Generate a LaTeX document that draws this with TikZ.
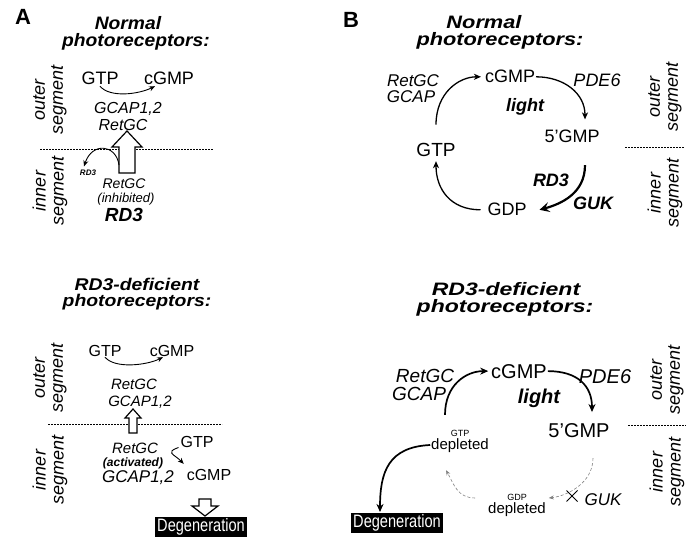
\documentclass[tikz,border=0pt]{standalone}
\usepackage{fontspec}
\setmainfont{Liberation Sans}
\usetikzlibrary{arrows.meta,shapes.misc}
\newcommand\fsz[1]{\fontsize{#1}{#1}\selectfont}
\begin{document}
\begin{tikzpicture}[x=1pt,y=-1pt,
  every node/.style={inner sep=0pt, outer sep=1pt},
  ttl/.style={font=\fsz{18}\bfseries\itshape, anchor=base, xscale=1.07},
  ttlb/.style={font=\fsz{17}\bfseries\itshape, anchor=base, xscale=1.14},
  ttlB/.style={font=\fsz{18}\bfseries\itshape, anchor=base, xscale=1.21},
  ttlBb/.style={font=\fsz{18}\bfseries\itshape, anchor=base, xscale=1.28},
  mol/.style={font=\fsz{#1}, anchor=base},
  enz/.style={font=\fsz{#1}\itshape, anchor=base},
  enzb/.style={font=\fsz{#1}\bfseries\itshape, anchor=base},
  seg/.style={font=\fsz{18}\itshape, rotate=90, align=center},
  panel/.style={font=\fsz{22}\bfseries, anchor=base},
  sep/.style={dash pattern=on 2pt off 1pt, line width=0.6pt},
  arr/.style={-{Stealth[length=6pt,width=5pt]}, line width=0.9pt},
  arrB/.style={-{Stealth[length=7pt,width=6pt,inset=2pt]}, line width=1.3pt},
  arrk/.style={-{Stealth[length=10pt,width=10pt,inset=4pt]}, line width=2.2pt},
  arrkb/.style={-{Stealth[length=8pt,width=7pt,inset=2.5pt]}, line width=1.7pt},
  arrd/.style={-{Stealth[length=5pt,width=4pt]}, line width=0.6pt, gray, dash pattern=on 3pt off 2pt},
  hollow/.style={draw, fill=white, line width=1.2pt, line join=miter},
  degen/.style={fill=black, text=white, minimum width=92pt, minimum height=20pt},
  degtxt/.style={font=\fsz{18}, xscale=0.81}
]
\useasboundingbox (0,0) rectangle (688,540);

%%%%%%%%%%%%%%%% Panel A, top
\node[panel] (pA) at (23,25) {A};
\node[ttl] (tA1) at (128,30) {Normal};
\node[ttl] (tA2) at (136,47) {photoreceptors:};
\node[seg] (osA) at (50,100) {outer\\segment};
\node[seg] (isA) at (50,191) {inner\\segment};
\coordinate (dA1) at (40,149);
\coordinate (dA2) at (213,149);
\draw[sep] (dA1) -- (dA2);
\node[mol=18] (gtpA) at (100,85) {GTP};
\node[mol=18] (cgmpA) at (169,85) {cGMP};
\node[enz=16] (gcapA) at (128,114) {GCAP1,2};
\node[enz=16] (retgcA) at (123,131) {RetGC};
\node[enz=14] (retgcA2) at (124,189) {RetGC};
\node[enz=13] (inhA) at (126,203) {(inhibited)};
\node[enzb=19] (rd3A) at (124,222) {RD3};
\node[enzb=8] (rd3sA) at (88,176) {RD3};
\draw[arr] (gtpA.south) .. controls +(10,12) and +(-16,8) .. ([xshift=-14pt]cgmpA.south);
\draw[hollow] (119,173) -- (119,147) -- (112,147) -- (127,131) -- (142,147) -- (135,147) -- (135,173) -- cycle;
\coordinate (shA) at (119,165);
\draw[arr] (shA) .. controls (116,144) and (92,142) .. ([xshift=-4pt,yshift=3pt]rd3sA.north);

%%%%%%%%%%%%%%%% Panel A, bottom
\node[ttlb] (tA3) at (137,290) {RD3-deficient};
\node[ttlb] (tA4) at (137,306) {photoreceptors:};
\node[seg] (osA2) at (50,378) {outer\\segment};
\node[seg] (isA2) at (50,470) {inner\\segment};
\coordinate (dA3) at (48,424);
\coordinate (dA4) at (222,424);
\draw[sep] (dA3) -- (dA4);
\node[mol=16] (gtpA2) at (105,356) {GTP};
\node[mol=16] (cgmpA2) at (172,356) {cGMP};
\draw[arr] (gtpA2.south) .. controls +(10,12) and +(-16,8) .. ([xshift=-9pt]cgmpA2.south);
\node[enz=15] (retgcA3) at (134,389) {RetGC};
\node[enz=15] (gcapA3) at (140,406) {GCAP1,2};
\draw[hollow] (129,433) -- (129,418) -- (125,418) -- (133,409) -- (141,418) -- (137,418) -- (137,433) -- cycle;
\node[enz=15] (retgcA4) at (135,453) {RetGC};
\node[enzb=12] (actA) at (133,466) {(activated)};
\node[enz=17] (gcapA4) at (138,482) {GCAP1,2};
\node[mol=16] (gtpA3) at (197,447) {GTP};
\node[mol=16] (cgmpA3) at (209,480) {cGMP};
\draw[arr] ([xshift=-1pt,yshift=-6pt]gtpA3.west) .. controls +(-14,5) and +(-10,-10) .. ([xshift=-2pt,yshift=4pt]cgmpA3.north west);
\node[degen] (degA) at (201,527) {};
\node[degtxt, text=white] (degAt) at (degA.center) {Degeneration};
\draw[hollow] (199,499) -- (199,506) -- (192,506) -- (205,516) -- (218,506) -- (211,506) -- (211,499) -- cycle;

%%%%%%%%%%%%%%%% Panel B, top
\node[panel] (pB) at (351,28) {B};
\node[ttlB] (tB1) at (484,29) {Normal};
\node[ttlB] (tB2) at (500,46) {photoreceptors:};
\node[seg] (osB) at (665,97) {outer\\segment};
\node[seg] (isB) at (665,193) {inner\\segment};
\coordinate (dB1) at (625,147);
\coordinate (dB2) at (684,147);
\draw[sep] (dB1) -- (dB2);
\node[enz=17] (retgcB) at (413,87) {RetGC};
\node[enz=17] (gcapB) at (411,103) {GCAP};
\node[mol=18] (cgmpB) at (510,83) {cGMP};
\node[enz=18] (pdeB) at (597,87) {PDE6};
\node[enzb=18] (lightB) at (525,112) {light};
\node[mol=18] (gmpB) at (572,143) {5’GMP};
\node[mol=19] (gtpB) at (436,157) {GTP};
\node[enzb=18] (rd3B) at (551,187) {RD3};
\node[enzb=18] (gukB) at (593,210) {GUK};
\node[mol=18] (gdpB) at (507,216) {GDP};
\draw[arrB] ([yshift=18pt]gtpB.north) .. controls +(0,-32) and +(-22,0) .. ([xshift=-3pt]cgmpB.west);
\draw[arrB] (cgmpB.east) .. controls +(28,0) and +(0,-26) .. ([xshift=13pt,yshift=10pt]gmpB.north);
\draw[arrk] ([xshift=13pt,yshift=-21pt]gmpB.south) .. controls +(0,28) and +(22,-6) .. ([xshift=12pt]gdpB.east);
\draw[arrB] ([xshift=-6pt]gdpB.west) .. controls +(-30,0) and +(0,28) .. ([yshift=-3pt]gtpB.south);

%%%%%%%%%%%%%%%% Panel B, bottom
\node[ttlBb] (tB3) at (506,295) {RD3-deficient};
\node[ttlBb] (tB4) at (505,312) {photoreceptors:};
\node[seg] (osB2) at (667,380) {outer\\segment};
\node[seg] (isB2) at (667,472) {inner\\segment};
\coordinate (dB3) at (628,425);
\coordinate (dB4) at (686,425);
\draw[sep] (dB3) -- (dB4);
\node[enz=19] (retgcB2) at (425,382) {RetGC};
\node[enz=19] (gcapB2) at (419,400) {GCAP};
\node[mol=20] (cgmpB2) at (519,378) {cGMP};
\node[enz=20] (pdeB2) at (605,383) {PDE6};
\node[enzb=20] (lightB2) at (539,403) {light};
\node[mol=20] (gmpB2) at (579,437) {5’GMP};
\node[align=center] (gtpdB) at (460,441) {\fsz{9}GTP\\[1pt]\fsz{15}depleted};
\node[align=center] (gdpdB) at (517,505) {\fsz{9}GDP\\[1pt]\fsz{15}depleted};
\node[enz=17] (gukB2) at (603,505) {GUK};
\node[degen] (degB) at (397,523) {};
\node[degtxt, text=white] (degBt) at (degB.center) {Degeneration};
\draw[arrkb] ([xshift=-15pt,yshift=14pt]gtpdB.north) .. controls +(0,-30) and +(-22,0) .. ([xshift=-2pt]cgmpB2.west);
\draw[arrkb] (cgmpB2.east) .. controls +(30,0) and +(0,-26) .. ([xshift=13pt,yshift=10pt]gmpB2.north);
\draw[arrd] ([xshift=14pt,yshift=-20pt]gmpB2.south) .. controls +(0,25) and +(18,-2) .. ([xshift=2pt,yshift=7pt]gdpdB.east);
\node[cross out, draw, line width=0.8pt, minimum size=9pt] (xB) at (572,496) {};
\draw[arrd] ([xshift=-12pt,yshift=7pt]gdpdB.west) .. controls +(-18,0) and +(8,14) .. ([xshift=-14pt,yshift=-17pt]gtpdB.south);
\draw[arrkb] ([yshift=-4pt]gtpdB.west) .. controls +(-42,2) and +(0,-40) .. ([xshift=-17pt]degB.north);
\end{tikzpicture}
\end{document}
